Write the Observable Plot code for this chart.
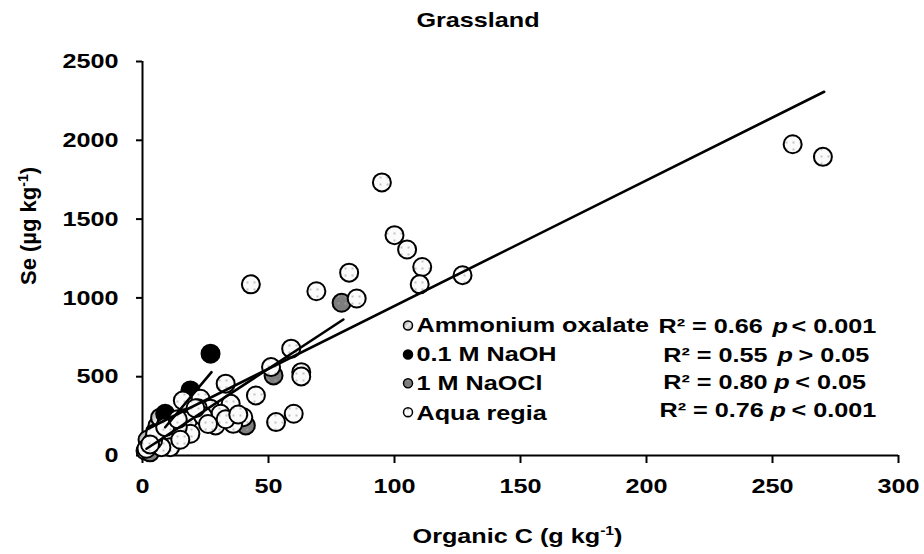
<!DOCTYPE html>
<html><head><meta charset="utf-8">
<script src="https://cdn.jsdelivr.net/npm/d3@7"></script>
<script src="https://cdn.jsdelivr.net/npm/@observablehq/plot@0.6"></script>
<style>
body{margin:0;background:#fff;}
#chart{width:924px;height:554px;}
svg text{font-family:"Liberation Sans",Arial,sans-serif;font-weight:bold;}
</style></head><body><div id="chart"></div>
<script>
// ---- data ----
const seriesNames = ["Ammonium oxalate", "0.1 M NaOH", "1 M NaOCl", "Aqua regia"];
const r2Labels = ["R² = 0.66", "R² = 0.55", "R² = 0.80", "R² = 0.76"];
const pLabels = ["< 0.001", "> 0.05", "< 0.05", "< 0.001"];
const xTicks = [0, 50, 100, 150, 200, 250, 300];
const yTicks = [0, 500, 1000, 1500, 2000, 2500];

const oxalateX = [1.2, 2.5, 3.5, 5, 6, 4, 8, 2, 10, 7];
const oxalateY = [30, 60, 110, 150, 190, 40, 95, 100, 130, 240];
const naohX = [27, 19, 9, 9.5];
const naohY = [646, 413, 265, 210];
const naoclX = [79, 52, 41, 3, 6];
const naoclY = [969, 508, 191, 20, 80];
const aquaX = [258, 270, 95, 100, 105, 111, 110, 127, 82, 85, 69, 43, 59, 51, 63, 63, 33, 45, 23, 35, 27, 40, 53, 60, 18, 29, 36, 12, 19, 16, 11, 7.5, 31, 1.6, 4.2, 22, 14, 5, 9, 14, 24, 21, 26, 33, 38, 15, 3];
const aquaY = [1975, 1895, 1733, 1398, 1307, 1196, 1086, 1144, 1160, 996, 1042, 1086, 678, 561, 529, 502, 456, 381, 360, 328, 297, 243, 212, 265, 222, 191, 201, 127, 138, 349, 53, 53, 265, 43, 95, 300, 180, 140, 180, 230, 250, 300, 200, 230, 260, 100, 70];

// trend lines (fitted, per series)
const trendNames = ["0.1 M NaOH", "1 M NaOCl", "Aqua regia"];
const trendFrom = [9, 1.6, 2];
const trendTo = [27.4, 79.7, 270.5];
const trendSlope = [19, 10.5, 7.97];
const trendIntercept = [8.4, 26, 152];

// ---- tables ----
const pts = (xs, ys, s) => xs.map((x, i) => ({x, y: ys[i], s}));
const oxalate = pts(oxalateX, oxalateY, seriesNames[0]);
const naoh = pts(naohX, naohY, seriesNames[1]);
const naocl = pts(naoclX, naoclY, seriesNames[2]);
const aqua = pts(aquaX, aquaY, seriesNames[3]);
const trend = trendNames.flatMap((s, i) => [trendFrom[i], trendTo[i]].map(x => ({s, x, y: trendIntercept[i] + trendSlope[i] * x})));

// ---- styles / layout ----
const fills = ["url(#oxal)", "black", "url(#ocl)", "url(#dots)"];
const legDotDx = 265.5;
const legRowDy = [264, 293, 321.7, 350.7];
const legTextDx = 274;
const legTextDy = [264, 293, 322, 352];
const r2Dx = [516, 520.7, 520.7, 517];
const pDx = [630, 635, 631.7, 628];
const pvDx = [649, 656, 652.7, 649];
const r2Dy = [265, 294, 320.7, 349];
const FS = 21;

const marks = [
  Plot.ruleY([0], {stroke: "black", strokeWidth: 2}),
  Plot.ruleX([0], {stroke: "black", strokeWidth: 2}),
  Plot.axisX({ticks: xTicks, tickSize: 8, tickPadding: 15, strokeWidth: 2, fontSize: FS, label: null, tickFormat: d3.format("d")}),
  Plot.axisY({ticks: yTicks, tickSize: 6, tickPadding: 18, strokeWidth: 2, fontSize: FS, label: null, tickFormat: d3.format("d")}),
  Plot.dot(oxalate, {x: "x", y: "y", r: 9, fill: fills[0], stroke: "black", strokeWidth: 2}),
  Plot.dot(naoh, {x: "x", y: "y", r: 9, fill: fills[1], stroke: "black", strokeWidth: 2}),
  Plot.dot(naocl, {x: "x", y: "y", r: 9, fill: fills[2], stroke: "black", strokeWidth: 2}),
  Plot.dot(aqua, {x: "x", y: "y", r: 9, fill: fills[3], stroke: "black", strokeWidth: 2}),
  Plot.line(trend, {x: "x", y: "y", z: "s", stroke: "black", strokeWidth: 2.6}),
  Plot.text(["Grassland"], {frameAnchor: "top", dx: -42.5, dy: -41, fontSize: 21, fill: "black", lineAnchor: "middle"}),
];
seriesNames.forEach((name, i) => {
  marks.push(Plot.dot([name], {frameAnchor: "top-left", dx: legDotDx, dy: legRowDy[i], r: 4.5, fill: fills[i], stroke: "black", strokeWidth: 1.5}));
  marks.push(Plot.text([name], {frameAnchor: "top-left", dx: legTextDx, dy: legTextDy[i], textAnchor: "start", lineAnchor: "middle", fontSize: FS, fill: "black"}));
  marks.push(Plot.text([r2Labels[i]], {frameAnchor: "top-left", dx: r2Dx[i], dy: r2Dy[i], textAnchor: "start", lineAnchor: "middle", fontSize: FS, fill: "black"}));
  marks.push(Plot.text(["p"], {frameAnchor: "top-left", dx: pDx[i], dy: r2Dy[i], textAnchor: "start", lineAnchor: "middle", fontSize: FS, fontStyle: "italic", fill: "black"}));
  marks.push(Plot.text([pLabels[i]], {frameAnchor: "top-left", dx: pvDx[i], dy: r2Dy[i], textAnchor: "start", lineAnchor: "middle", fontSize: FS, fill: "black"}));
});

const chart = Plot.plot({
  width: 924, height: 554,
  marginLeft: 142, marginRight: 26, marginTop: 61, marginBottom: 99,
  x: {domain: [0, 300]},
  y: {domain: [0, 2500]},
  style: {background: "white", color: "black", fontFamily: "'Liberation Sans', Arial, sans-serif"},
  marks
});
document.getElementById("chart").appendChild(chart);

const svg = d3.select(chart);
const defs = svg.insert("defs", ":first-child");
const pd = defs.append("pattern").attr("id", "dots").attr("patternUnits", "userSpaceOnUse").attr("width", 7).attr("height", 7);
pd.append("rect").attr("width", 7).attr("height", 7).attr("fill", "#fbfbfb");
pd.append("circle").attr("cx", 2).attr("cy", 2).attr("r", 0.9).attr("fill", "#a8a8a8");
const po = defs.append("pattern").attr("id", "ocl").attr("patternUnits", "userSpaceOnUse").attr("width", 7).attr("height", 7);
po.append("rect").attr("width", 7).attr("height", 7).attr("fill", "#7d7d7d");
po.append("circle").attr("cx", 2).attr("cy", 2).attr("r", 0.9).attr("fill", "#a0a0a0");
const go = defs.append("linearGradient").attr("id", "oxal").attr("x1", 0).attr("y1", 0).attr("x2", 1).attr("y2", 1);
go.append("stop").attr("offset", "0%").attr("stop-color", "#8a8a8a");
go.append("stop").attr("offset", "50%").attr("stop-color", "#eeeeee");
go.append("stop").attr("offset", "100%").attr("stop-color", "#9a9a9a");

// axis titles with superscripts
const xl = svg.append("text").attr("x", 517.5).attr("y", 543).attr("text-anchor", "middle").attr("font-size", FS).attr("fill", "black");
xl.append("tspan").text("Organic C (g kg");
xl.append("tspan").attr("font-size", 13).attr("dy", -8).text("-1");
xl.append("tspan").attr("dy", 8).text(")");
const yl = svg.append("text").attr("transform", "translate(36,226) rotate(-90)").attr("text-anchor", "middle").attr("font-size", 22).attr("fill", "black").attr("class", "norot");
yl.append("tspan").text("Se (µg kg");
yl.append("tspan").attr("font-size", 14).attr("dy", -8).text("-1");
yl.append("tspan").attr("dy", 8).text(")");

// horizontal stretch of the original's lettering
svg.selectAll("text").each(function() {
  if (this.classList.contains("norot")) return;
  const w = this.getComputedTextLength();
  if (w > 0) { this.setAttribute("textLength", w * 1.2); this.setAttribute("lengthAdjust", "spacingAndGlyphs"); }
});
</script></body></html>
